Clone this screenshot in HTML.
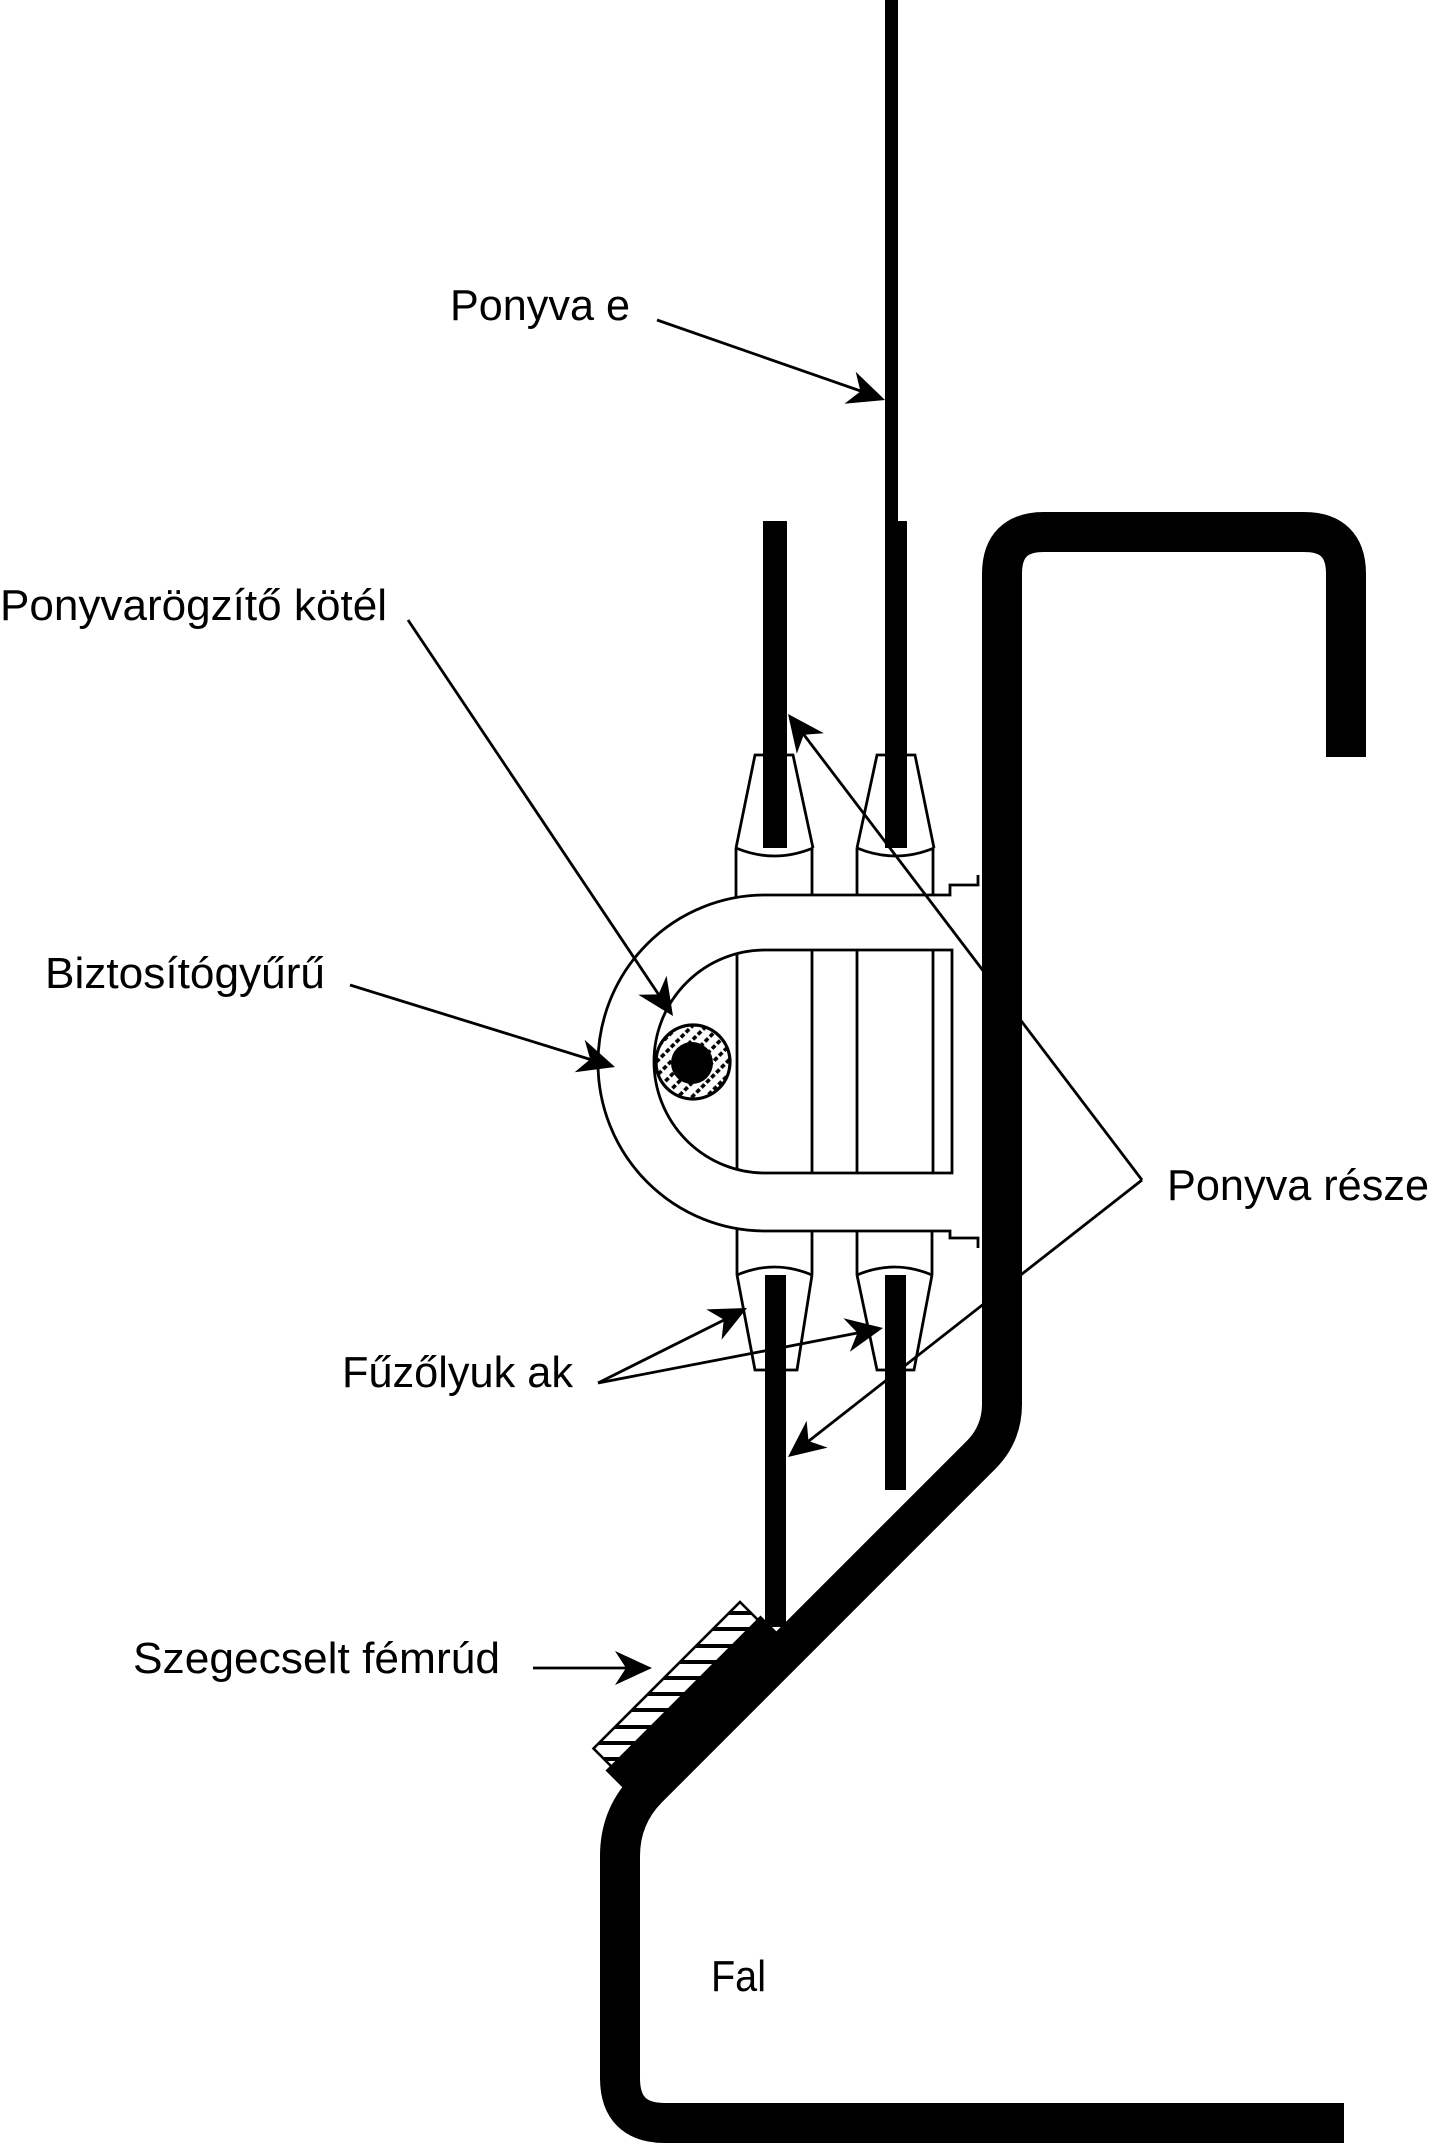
<!DOCTYPE html>
<html>
<head>
<meta charset="utf-8">
<style>
html,body{margin:0;padding:0;background:#fff;}
body{width:1429px;height:2144px;overflow:hidden;}
svg{display:block;}
text{font-family:"Liberation Sans",Arial,Helvetica,sans-serif;font-size:44px;fill:#000;}
</style>
</head>
<body>
<svg width="1429" height="2144" viewBox="0 0 1429 2144" xmlns="http://www.w3.org/2000/svg">
<defs>
<pattern id="hatch" width="7" height="10" patternUnits="userSpaceOnUse" patternTransform="rotate(-45)">
<rect width="7" height="10" fill="#fff"/>
<line x1="0" y1="5" x2="7" y2="5" stroke="#000" stroke-width="3.6" stroke-dasharray="4.5 2.5"/>
</pattern>
<clipPath id="rodclip"><polygon points="740,1602 758,1620 611.5,1766.5 593.5,1748.5"/></clipPath>
<path id="ah" d="M0 0 L-37 -17 L-26 0 L-37 17 Z"/>
</defs>
<rect width="1429" height="2144" fill="#fff"/>

<!-- Wall -->
<path d="M1346 757 L1346 574 Q1346 532 1304 532 L1044 532 Q1002 532 1002 574 L1002 1404 Q1002 1434 981 1455 L648 1788 Q620 1816 620 1856 L620 2078 Q620 2123 665 2123 L1344 2123" fill="none" stroke="#000" stroke-width="40"/>

<!-- U ring and grommets -->
<g fill="none" stroke="#000" stroke-width="2.8">
  <path d="M765 895 A167 168 0 0 0 765 1231"/>
  <path d="M765 895 L950 895 L950 885 L978 885 L978 875"/>
  <path d="M765 1231 L950 1231 L950 1238 L978 1238 L978 1248"/>
  <path d="M765 950 A111 111.5 0 0 0 765 1173"/>
  <path d="M765 950 L952 950 L952 1173 L765 1173"/>
  <line x1="737" y1="955" x2="737" y2="1170"/>
  <line x1="812" y1="950" x2="812" y2="1173"/>
  <line x1="857" y1="950" x2="857" y2="1173"/>
  <line x1="933" y1="950" x2="933" y2="1173"/>

  <path d="M736 848 L755 755 L793 755 L813 848"/>
  <path d="M736 848 Q774.5 864 813 848"/>
  <line x1="736" y1="848" x2="736" y2="897"/>
  <line x1="812" y1="848" x2="812" y2="895"/>
  <path d="M857 848 L877 755 L915 755 L934 848"/>
  <path d="M857 848 Q895.5 864 934 848"/>
  <line x1="857" y1="848" x2="857" y2="895"/>
  <line x1="933" y1="848" x2="933" y2="895"/>

  <line x1="737" y1="1229" x2="737" y2="1275"/>
  <line x1="812" y1="1231" x2="812" y2="1275"/>
  <path d="M737 1275 Q774.5 1259 812 1275"/>
  <path d="M737 1275 L755 1370 L797 1370 L812 1275"/>
  <line x1="857" y1="1231" x2="857" y2="1275"/>
  <line x1="932" y1="1231" x2="932" y2="1275"/>
  <path d="M857 1275 Q894.5 1259 932 1275"/>
  <path d="M857 1275 L877 1370 L914 1370 L932 1275"/>
</g>

<!-- Rope -->
<circle cx="693" cy="1062" r="37" fill="url(#hatch)" stroke="#000" stroke-width="3.2"/>
<circle cx="692" cy="1063" r="21" fill="#000"/>

<!-- Tarpaulin strips -->
<rect x="885" y="0" width="13" height="523" fill="#000"/>
<rect x="885" y="521" width="22" height="327" fill="#000"/>
<rect x="763" y="521" width="24" height="327" fill="#000"/>
<rect x="885" y="1275" width="21" height="215" fill="#000"/>
<rect x="765" y="1275" width="21" height="352" fill="#000"/>

<!-- Riveted metal rod -->
<polygon points="760.5,1615.5 777.5,1632.5 622.5,1787.5 605.5,1770.5" fill="#000"/>
<polygon points="740,1602 758,1620 611.5,1766.5 593.5,1748.5" fill="#fff"/>
<g clip-path="url(#rodclip)" stroke="#000" stroke-width="4">
  <line x1="580" y1="1613" x2="780" y2="1613"/>
  <line x1="580" y1="1629" x2="780" y2="1629"/>
  <line x1="580" y1="1646" x2="780" y2="1646"/>
  <line x1="580" y1="1662" x2="780" y2="1662"/>
  <line x1="580" y1="1678" x2="780" y2="1678"/>
  <line x1="580" y1="1694" x2="780" y2="1694"/>
  <line x1="580" y1="1710" x2="780" y2="1710"/>
  <line x1="580" y1="1727" x2="780" y2="1727"/>
  <line x1="580" y1="1743" x2="780" y2="1743"/>
  <line x1="580" y1="1759" x2="780" y2="1759"/>
</g>
<polygon points="740,1602 758,1620 611.5,1766.5 593.5,1748.5" fill="none" stroke="#000" stroke-width="2.6"/>

<!-- Arrows -->
<g stroke="#000" stroke-width="2.8" fill="none">
  <line x1="657" y1="320" x2="875" y2="396"/>
  <line x1="408" y1="620" x2="667" y2="1007"/>
  <line x1="350" y1="985" x2="605" y2="1064"/>
  <line x1="1142" y1="1180" x2="795" y2="723"/>
  <line x1="1142" y1="1180" x2="796" y2="1451"/>
  <line x1="598" y1="1383" x2="738" y2="1313"/>
  <line x1="598" y1="1383" x2="873" y2="1330"/>
  <line x1="533" y1="1668" x2="642" y2="1668"/>
</g>
<g fill="#000">
  <use href="#ah" transform="translate(885 400) rotate(19.33)"/>
  <use href="#ah" transform="translate(673 1016) rotate(56.2)"/>
  <use href="#ah" transform="translate(615 1067) rotate(17.2)"/>
  <use href="#ah" transform="translate(788 714) rotate(232.8)"/>
  <use href="#ah" transform="translate(788 1457) rotate(141.95)"/>
  <use href="#ah" transform="translate(747 1308) rotate(-26.7)"/>
  <use href="#ah" transform="translate(883 1328) rotate(-10.9)"/>
  <use href="#ah" transform="translate(652 1668) rotate(0)"/>
</g>

<!-- Labels -->
<text x="450" y="320" textLength="180" lengthAdjust="spacingAndGlyphs">Ponyva e</text>
<text x="0" y="620" textLength="387" lengthAdjust="spacingAndGlyphs">Ponyvarögzítő kötél</text>
<text x="45" y="988" textLength="280" lengthAdjust="spacingAndGlyphs">Biztosítógyűrű</text>
<text x="1167" y="1200" textLength="262" lengthAdjust="spacingAndGlyphs">Ponyva része</text>
<text x="342" y="1387" textLength="231" lengthAdjust="spacingAndGlyphs">Fűzőlyuk ak</text>
<text x="133" y="1673" textLength="367" lengthAdjust="spacingAndGlyphs">Szegecselt fémrúd</text>
<text x="711" y="1991" textLength="55" lengthAdjust="spacingAndGlyphs">Fal</text>
</svg>
</body>
</html>
